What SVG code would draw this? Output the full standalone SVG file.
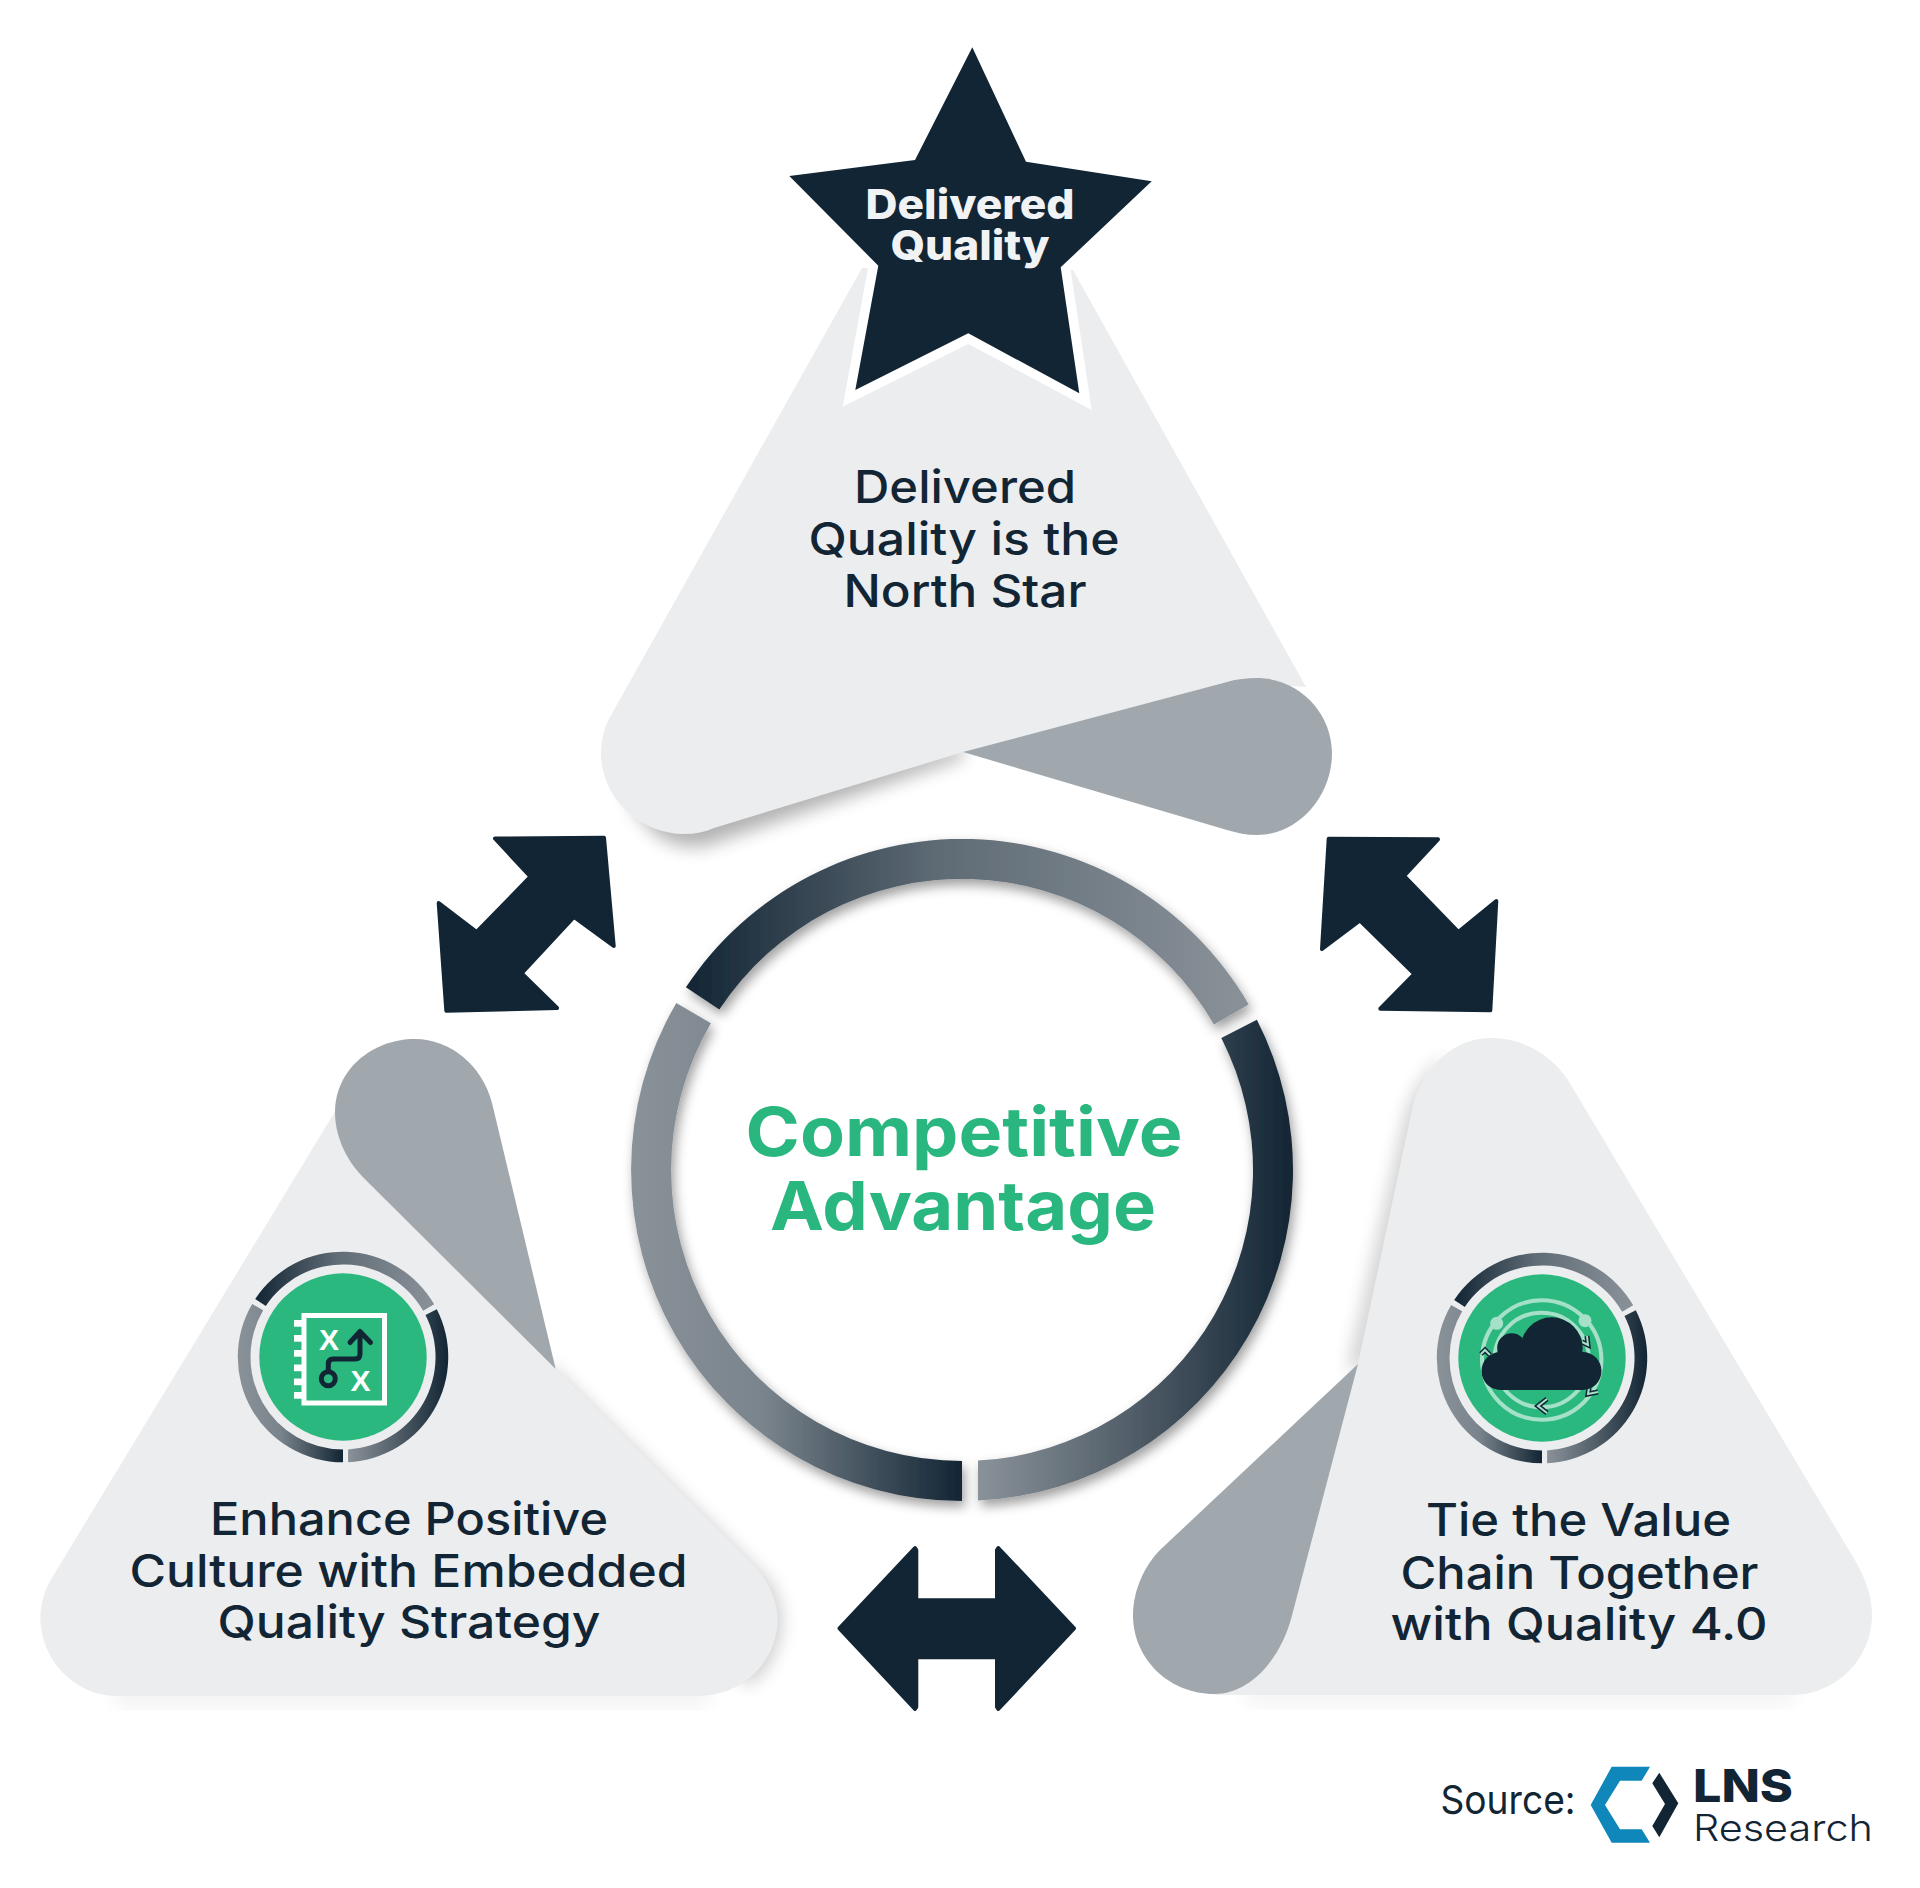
<svg xmlns="http://www.w3.org/2000/svg" xmlns:xlink="http://www.w3.org/1999/xlink" width="1920" height="1888" viewBox="0 0 1920 1888">
<style>
text{font-family:Inter,"Liberation Sans",sans-serif;text-anchor:middle}
.body{font-size:45px;font-weight:500;fill:#122534}
.star{font-size:41px;font-weight:800;fill:#F0F2F4}
.big{font-size:68px;font-weight:700;fill:#2AB77F}
.light{fill:#ECEDEF}
.fold{fill:#A0A7AD}
.dark{fill:#122534}
.arrow{fill:#122534;stroke:#122534;stroke-width:4;stroke-linejoin:round}
.green{fill:#2BB87F}
.pale{fill:none;stroke:#A5E0C8;stroke-width:4}
.x{font-family:"Liberation Sans",sans-serif;font-size:30px;font-weight:700;fill:#fff}
.route{fill:none;stroke:#122534;stroke-width:5;stroke-linecap:round;stroke-linejoin:round}
.chev{fill:none;stroke:#122534;stroke-width:5}
.chev2{fill:none;stroke:#A5E0C8;stroke-width:2}
</style>
<defs>
<filter id="soft" x="-30%" y="-30%" width="160%" height="160%"><feGaussianBlur stdDeviation="9"/></filter>
<filter id="ringShadow" x="-10%" y="-10%" width="120%" height="120%"><feDropShadow dx="3" dy="6" stdDeviation="6" flood-color="#000" flood-opacity="0.38"/></filter>
<linearGradient id="g1" x1="0" x2="1" y1="0" y2="0"><stop offset="0" stop-color="#122534"/><stop offset="0.45" stop-color="#5F6B75"/><stop offset="1" stop-color="#8A9299"/></linearGradient>
<linearGradient id="g2" x1="0" x2="1" y1="0" y2="0"><stop offset="0" stop-color="#8A9299"/><stop offset="0.55" stop-color="#4A5762"/><stop offset="1" stop-color="#122534"/></linearGradient>
<linearGradient id="g3" x1="0" x2="1" y1="0" y2="0"><stop offset="0" stop-color="#8A9299"/><stop offset="0.4" stop-color="#7A848C"/><stop offset="1" stop-color="#122534"/></linearGradient>
<g id="ring">
<path fill="url(#g1)" d="M685.9,987.3A331 331 0 0 1 1248.7,1004.5L1214,1024.5A291 291 0 0 0 719.3,1009.4Z"/>
<path fill="url(#g2)" d="M1256.9,1019.7A331 331 0 0 1 978,1500.6L978,1460.6A291 291 0 0 0 1221.3,1037.9Z"/>
<path fill="url(#g3)" d="M962,1501A331 331 0 0 1 676.3,1003L710.9,1023.2A291 291 0 0 0 962,1461Z"/>
</g>
</defs>
<rect width="1920" height="1888" fill="#fff"/>

<g id="node-top">
<path fill="#000" opacity="0.3" filter="url(#soft)" d="M620,760C630,825 665,852 705,846L963,758L963,745L690,800Z"/>
<path class="light" d="M862,268L610,717C604,728 601,741 601,753C601,798 640,834 684,834C695,834 705,832 714,828L963,752L1227,682L1306,687L1073,270Z"/>
<path class="fold" d="M963,752L1227,682C1237,679 1247,678 1257,678C1298,678 1332,712 1332,753C1332,797 1298,835 1257,835C1247,835 1237,833 1227,830Z"/>
<path fill="#fff" d="M868,268L842.7,406.7L968.3,344L1091.7,410L1070.7,270L968,200Z"/>
<path class="dark" d="M972.3,47.3L1026,161.7L1151.7,181.3L1060.7,267.3L1079.3,393.3L968.3,333.3L855.3,390L878.3,265.7L789.3,176L915,160Z"/>
<text class="star" x="970" y="219" textLength="209" lengthAdjust="spacingAndGlyphs">Delivered</text>
<text class="star" x="970" y="260" textLength="159" lengthAdjust="spacingAndGlyphs">Quality</text>
<text class="body" x="965" y="503" textLength="222" lengthAdjust="spacingAndGlyphs">Delivered</text>
<text class="body" x="964" y="555" textLength="311" lengthAdjust="spacingAndGlyphs">Quality is the</text>
<text class="body" x="965" y="607" textLength="243" lengthAdjust="spacingAndGlyphs">North Star</text>
</g>

<g id="node-left">
<path fill="#000" opacity="0.2" filter="url(#soft)" d="M550,1365L768,1580C790,1610 785,1655 750,1685L730,1670L540,1385Z"/>
<path fill="#000" opacity="0.06" filter="url(#soft)" d="M110,1690L720,1690L700,1706L120,1706Z"/>
<path class="light" d="M345,1095L50.6,1580C44,1592 40.4,1605 40.4,1617C40.4,1660 75,1696 117,1696L698.6,1696C742,1696 777.6,1662 777.6,1619C777.6,1600 768,1581 754.7,1566L555.7,1369L400,1100Z"/>
<path class="fold" d="M555.7,1369L361.8,1176C345,1158 335,1135 335,1112C335,1070 372,1039 415,1039C450,1039 482,1065 492,1103Z"/>
<use xlink:href="#ring" href="#ring" transform="translate(343,1357) scale(0.318) translate(-962,-1170)"/>
<circle class="green" cx="343" cy="1357" r="83.7"/>
<g id="icon-plan">
<rect x="304" y="1315.5" width="80.5" height="87.5" fill="none" stroke="#fff" stroke-width="5"/>
<g fill="#fff"><rect x="294" y="1320" width="9" height="6.7"/><rect x="294" y="1335" width="9" height="6.7"/><rect x="294" y="1350" width="9" height="6.7"/><rect x="294" y="1364.5" width="9" height="6.7"/><rect x="294" y="1378.5" width="9" height="6.7"/><rect x="294" y="1392" width="9" height="6.7"/></g>
<text class="x" x="329" y="1350">X</text>
<text class="x" x="360.5" y="1391">X</text>
<circle class="route" cx="328.3" cy="1378.7" r="7"/>
<path class="route" d="M328.3,1371.5L328.3,1364Q328.3,1359 333,1359L355,1359Q360,1359 360,1354L360,1332M350,1342.5L360,1331.5L370.5,1342.5"/>
</g>
<text class="body" x="409" y="1535" textLength="398" lengthAdjust="spacingAndGlyphs">Enhance Positive</text>
<text class="body" x="408.5" y="1587" textLength="558" lengthAdjust="spacingAndGlyphs">Culture with Embedded</text>
<text class="body" x="409" y="1638" textLength="383" lengthAdjust="spacingAndGlyphs">Quality Strategy</text>
</g>

<g id="node-right">
<path fill="#000" opacity="0.2" filter="url(#soft)" d="M1445,1055C1422,1075 1410,1100 1404,1125L1348,1372L1368,1365L1428,1110Z"/>
<path fill="#000" opacity="0.05" filter="url(#soft)" d="M1240,1690L1800,1690L1790,1705L1250,1705Z"/>
<path class="light" d="M1413.5,1102.6C1425,1065 1455,1038 1490.6,1038C1523,1038 1550,1054 1567.8,1079.7L1856,1562C1866,1580 1872,1597 1872,1615C1872,1660 1835,1695 1792,1695L1214,1695L1358,1364Z"/>
<path class="fold" d="M1358,1364L1291.6,1617C1280,1660 1250,1694 1214,1694C1170,1694 1133,1660 1133,1615C1133,1590 1145,1565 1160,1550Z"/>
<use xlink:href="#ring" href="#ring" transform="translate(1542,1358) scale(0.318) translate(-962,-1170)"/>
<circle class="green" cx="1542" cy="1358" r="83.7"/>
<g id="icon-cloud">
<circle class="pale" cx="1541.7" cy="1360" r="59.7"/>
<circle class="pale" cx="1541.7" cy="1360" r="47.3"/>
<circle cx="1496.7" cy="1323.3" r="6.5" fill="#A5E0C8"/>
<circle cx="1585" cy="1320.7" r="6.5" fill="#A5E0C8"/>
<path class="chev" d="M1547,1399L1538,1406L1547,1413"/><path class="chev2" d="M1547,1399L1538,1406L1547,1413"/>
<path class="chev" d="M1481,1354L1485,1350L1490,1355"/><path class="chev2" d="M1481,1354L1485,1350L1490,1355"/>
<path class="chev" d="M1582,1342L1588,1345L1587,1336"/><path class="chev2" d="M1582,1342L1588,1345L1587,1336"/>
<path class="chev" d="M1589,1388L1588,1394L1598,1392"/><path class="chev2" d="M1589,1388L1588,1394L1598,1392"/>
<g class="dark"><circle cx="1551.7" cy="1348.3" r="31"/><circle cx="1511.7" cy="1347.7" r="14.5"/><circle cx="1500.5" cy="1371" r="19"/><circle cx="1582.5" cy="1371" r="19"/><rect x="1500" y="1352" width="83" height="38"/></g>
</g>
<text class="body" x="1578.5" y="1536" textLength="305" lengthAdjust="spacingAndGlyphs">Tie the Value</text>
<text class="body" x="1579.5" y="1588.5" textLength="358" lengthAdjust="spacingAndGlyphs">Chain Together</text>
<text class="body" x="1579" y="1640" textLength="377" lengthAdjust="spacingAndGlyphs">with Quality 4.0</text>
</g>

<g id="node-center">
<use href="#ring" xlink:href="#ring" filter="url(#ringShadow)"/>
<text class="big" x="964" y="1156" textLength="437" lengthAdjust="spacingAndGlyphs">Competitive</text>
<text class="big" x="963" y="1230" textLength="386" lengthAdjust="spacingAndGlyphs">Advantage</text>
</g>

<g id="connectors">
<polygon class="arrow" points="495,838.5 604,837.7 613.7,946 574,917 521.5,973.3 557,1008 446.3,1010.7 438.7,903 476.7,932 530.5,876.7"/>
<polygon class="arrow" points="1328.7,838.7 1438,839.3 1404,876 1458.3,932 1496.3,901 1490.3,1010.3 1380.3,1008.7 1414.5,974 1360,920.5 1322,949"/>
<polygon class="arrow" points="839.5,1628.3 915,1548 916.3,1550 916.3,1600.3 997,1600.3 997,1550 998.3,1548 1074,1628.3 998.3,1709 997,1707 997,1657.3 916.3,1657.3 916.3,1707 915,1709"/>
</g>

<g id="source">
<text x="1508" y="1814" font-size="40" font-weight="400" fill="#122534" textLength="135" lengthAdjust="spacingAndGlyphs">Source:</text>
<polygon fill="#0F87BA" points="1611.7,1766.7 1650,1766.7 1641.7,1780.7 1620,1780.7 1605,1805 1620,1829.3 1641.7,1829.3 1650,1842.7 1611.7,1842.7 1590.7,1805"/>
<polygon class="dark" points="1659.3,1772.7 1678.3,1803.3 1659.3,1837.3 1652.3,1826 1665,1804 1652.3,1783.3"/>
<text x="1743" y="1802" font-size="45" font-weight="800" fill="#122534" textLength="100" lengthAdjust="spacingAndGlyphs">LNS</text>
<text x="1783" y="1841" font-size="37" font-weight="300" fill="#122534" textLength="180" lengthAdjust="spacingAndGlyphs">Research</text>
</g>
</svg>
